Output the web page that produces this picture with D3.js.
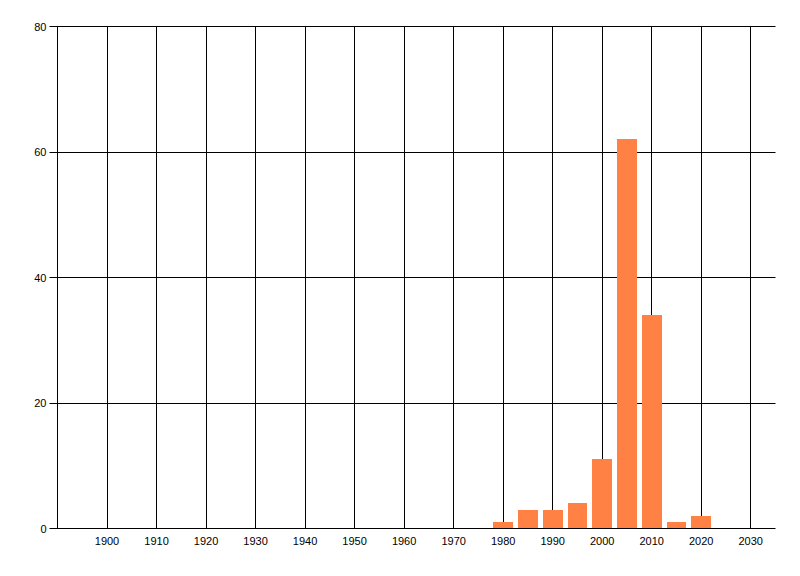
<!DOCTYPE html>
<html lang="en">
<head>
  <meta charset="utf-8" />
  <title>Bar chart by year</title>
  <script type="text/javascript" src="https://cdn.jsdelivr.net/npm/d3@7/dist/d3.min.js"></script>
  <style>
    body { margin: 0; background: white; }
    text { font-family: "Liberation Sans", Arial, sans-serif; font-size: 11px; fill: #000; }
  </style>
</head>
<body>

<script type="text/javascript">

// Data
var years  = [1980, 1985, 1990, 1995, 2000, 2005, 2010, 2015, 2020];
var counts = [1, 3, 3, 4, 11, 62, 34, 1, 2];
var xTicks = [1900, 1910, 1920, 1930, 1940, 1950, 1960, 1970, 1980, 1990, 2000, 2010, 2020, 2030];
var yTicks = [0, 20, 40, 60, 80];

var dataset = years.map(function(y, i) { return {year: y, count: counts[i]}; });

var w = 800;
var h = 576;
var pad = {left: 57.5, right: 775.5, top: 26.5, bottom: 528.5};
var barYears = 4;   // bar width in years

var xScale = d3.scaleLinear()
               .domain([1890, 2035])
               .range([pad.left, pad.right]);
var yScale = d3.scaleLinear()
               .domain([0, 80])
               .range([pad.bottom, pad.top]);

function snap(v) { return Math.round(v - 0.5) + 0.5; }

var svg = d3.select("body")
            .append("svg")
            .attr("width", w)
            .attr("height", h);

// Vertical gridlines
svg.append("g")
   .attr("class", "x_grid")
   .selectAll("line")
   .data(xTicks)
   .enter()
   .append("line")
   .attr("x1", function(d) { return snap(xScale(d)); })
   .attr("x2", function(d) { return snap(xScale(d)); })
   .attr("y1", pad.top)
   .attr("y2", pad.bottom)
   .attr("stroke", "#000")
   .attr("stroke-width", 1);

// Horizontal gridlines plus left tick marks
svg.append("g")
   .attr("class", "y_grid")
   .selectAll("line")
   .data(yTicks)
   .enter()
   .append("line")
   .attr("x1", pad.left - 8)
   .attr("x2", pad.right)
   .attr("y1", function(d) { return snap(yScale(d)); })
   .attr("y2", function(d) { return snap(yScale(d)); })
   .attr("stroke", "#000")
   .attr("stroke-width", 1);

// Left axis line
svg.append("line")
   .attr("x1", pad.left).attr("x2", pad.left)
   .attr("y1", pad.top).attr("y2", pad.bottom)
   .attr("stroke", "#000");

// Bars (drawn over the grid)
svg.append("g")
   .attr("class", "bars")
   .selectAll("rect")
   .data(dataset)
   .enter()
   .append("rect")
   .attr("x", function(d) { return Math.round(xScale(d.year - barYears / 2)); })
   .attr("width", function(d) { return Math.round(xScale(d.year + barYears / 2)) - Math.round(xScale(d.year - barYears / 2)); })
   .attr("y", function(d) { return Math.round(yScale(d.count)); })
   .attr("height", function(d) { return Math.round(pad.bottom - 0.5) - Math.round(yScale(d.count)); })
   .attr("fill", "#ff8244");

// Y labels
svg.append("g")
   .selectAll("text")
   .data(yTicks)
   .enter()
   .append("text")
   .attr("x", pad.left - 11)
   .attr("y", function(d) { return yScale(d) + 4; })
   .attr("text-anchor", "end")
   .text(function(d) { return d; });

// X labels
svg.append("g")
   .selectAll("text")
   .data(xTicks)
   .enter()
   .append("text")
   .attr("x", function(d) { return xScale(d); })
   .attr("y", pad.bottom + 16.5)
   .attr("text-anchor", "middle")
   .text(function(d) { return d; });

</script>

</body>
</html>
